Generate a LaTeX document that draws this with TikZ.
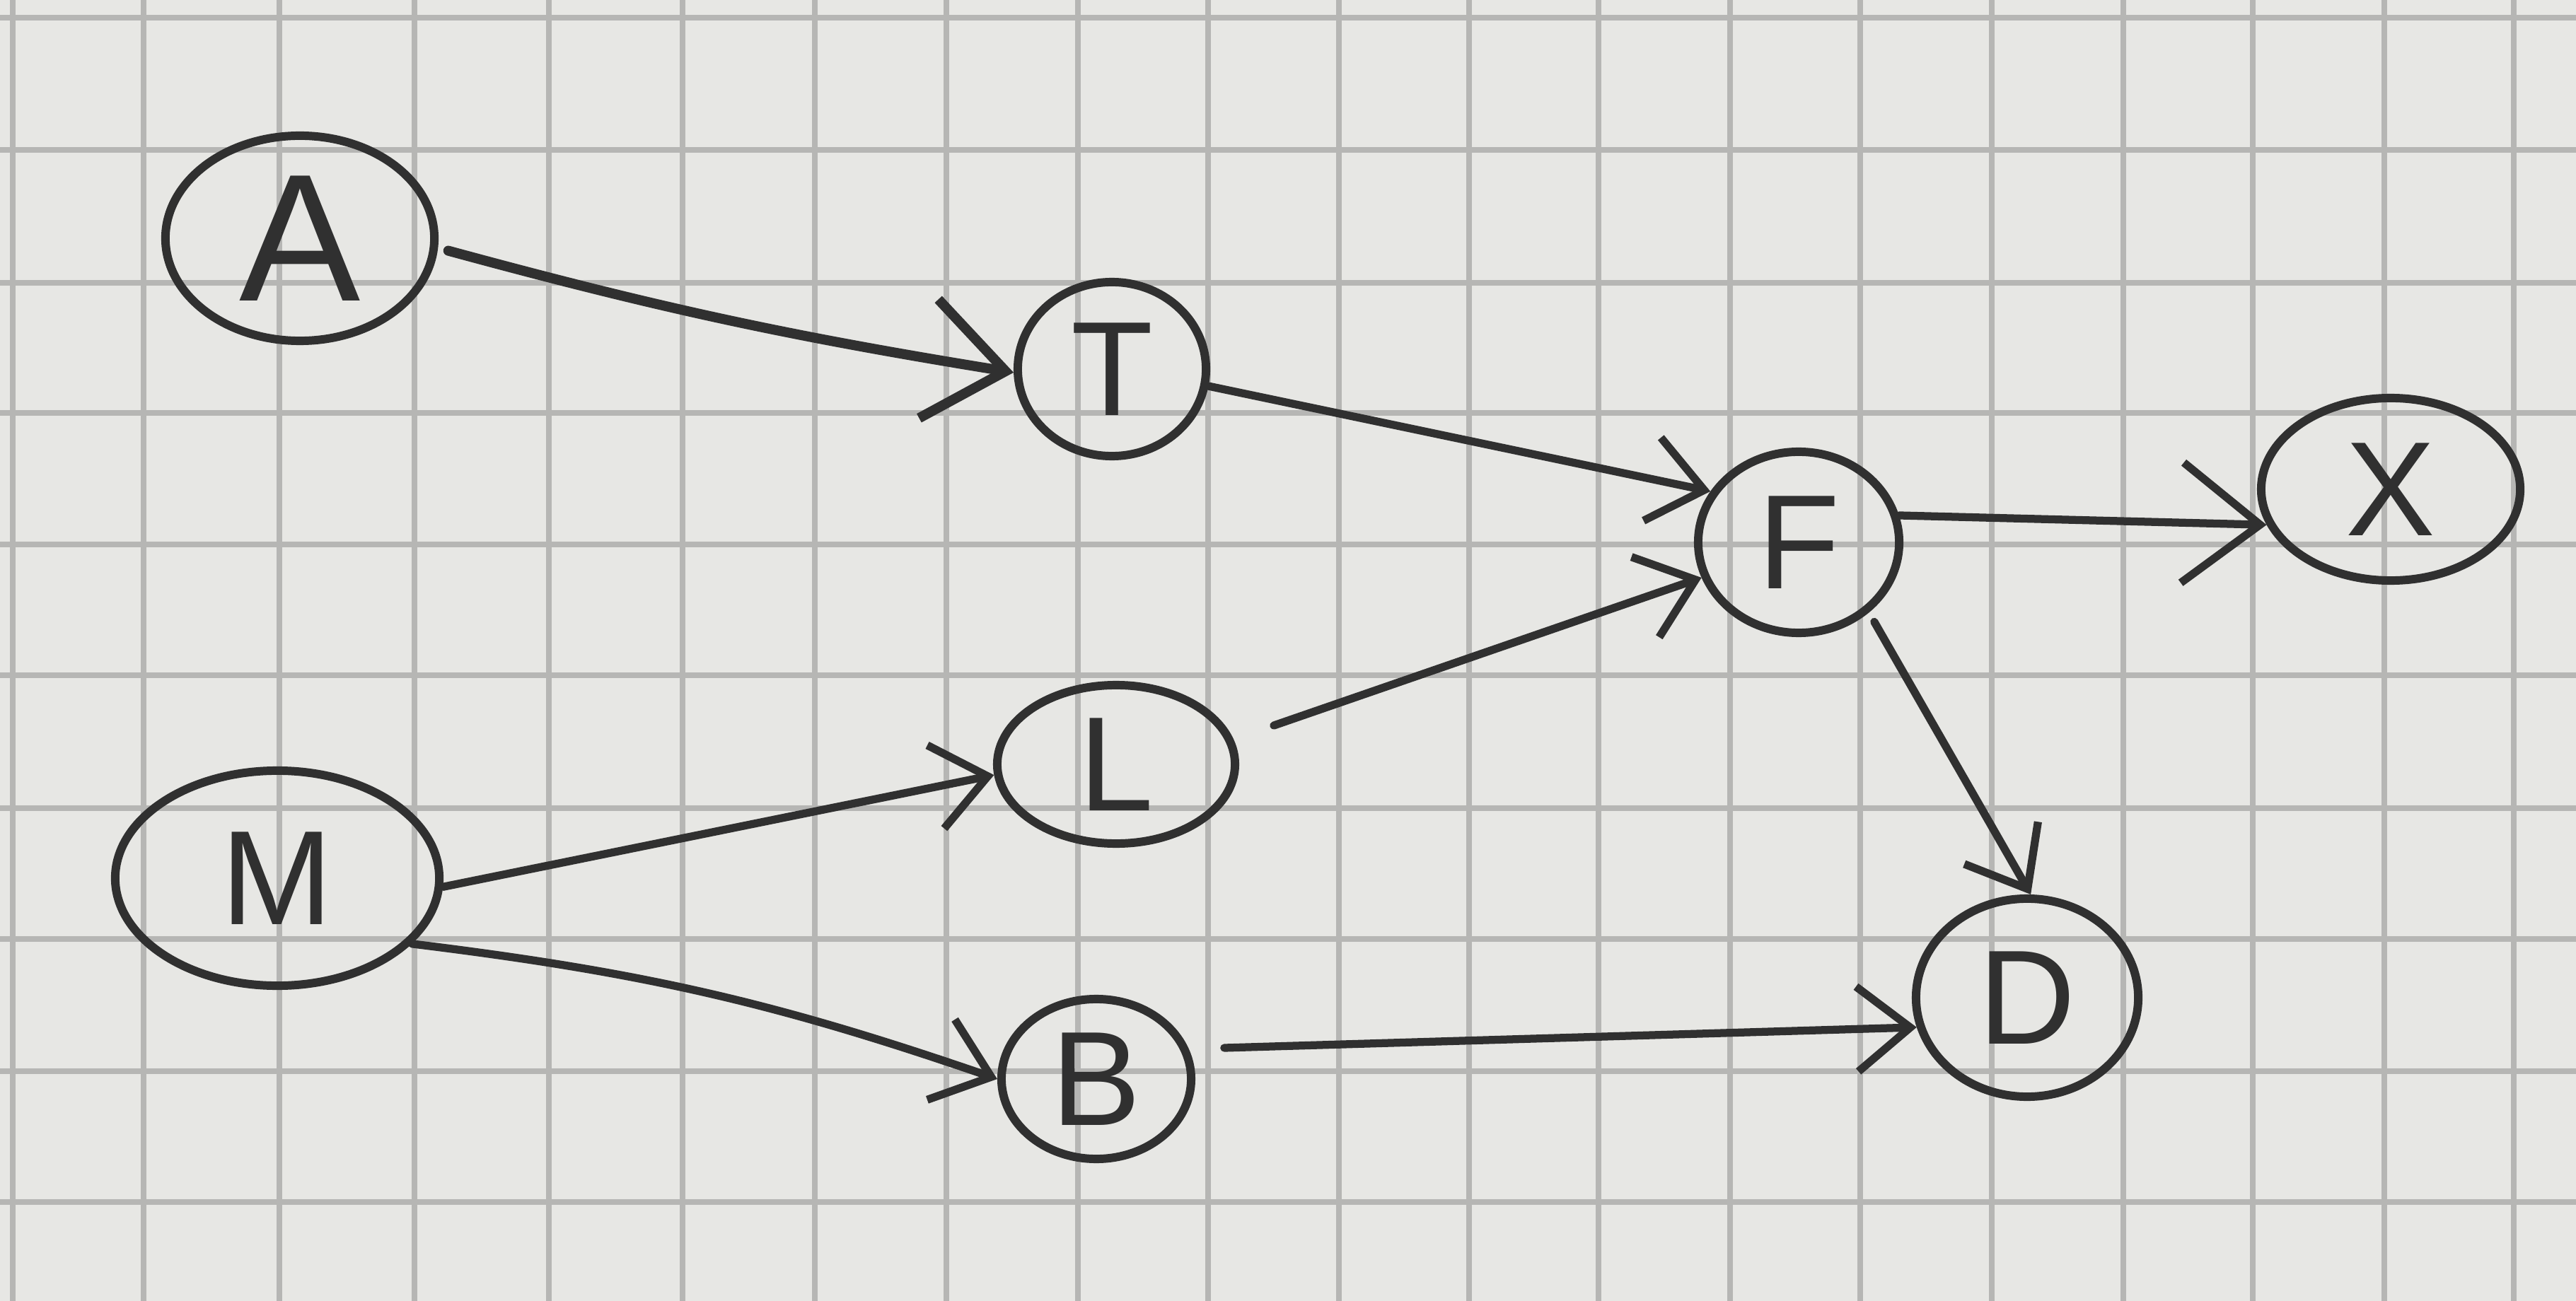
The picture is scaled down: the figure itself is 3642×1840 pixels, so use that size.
\documentclass[tikz,border=0pt]{standalone}
\usepackage{fontspec}
\setmainfont{Liberation Sans}
\usetikzlibrary{shapes.geometric,arrows.meta}
\definecolor{paper}{RGB}{231,231,228}
\definecolor{gridc}{RGB}{182,182,180}
\definecolor{pencil}{RGB}{48,48,48}
\begin{document}
\begin{tikzpicture}[x=0.01cm,y=-0.01cm,
  vnode/.style={ellipse, draw=pencil, line width=3.4pt, inner sep=0pt, text=pencil,
    font=\fontsize{54}{60}\selectfont},
  edge/.style={draw=pencil, line width=3.2pt, line cap=round,
    -{Straight Barb[length=0.75cm,width=1.2cm]}},
  bigedge/.style={edge, -{Straight Barb[length=1.1cm,width=1.7cm]}},
  gridline/.style={draw=gridc, line width=2.3pt}
]
\fill[paper] (0,0) rectangle (3642,1840);
\useasboundingbox (0,0) rectangle (3642,1840);
\foreach \gx in {18,203,395,586,776,965,1152,1338,1524,1708,1893,2077,2260,2446,2630,2816,3002,3185,3371,3554}
  \draw[gridline] (\gx,0) -- (\gx,1840);
\foreach \gy in {25,212,400,584,770,955,1143,1328,1515,1700}
  \draw[gridline] (0,\gy) -- (3642,\gy);

\node[vnode, minimum width=3.8cm, minimum height=2.9cm, font=\fontsize{73}{80}\selectfont] (A) at (424,337) {A};
\node[vnode, minimum width=2.66cm, minimum height=2.46cm] (T) at (1572,522) {T};
\node[vnode, minimum width=2.84cm, minimum height=2.56cm] (F) at (2543,767) {F};
\node[vnode, minimum width=3.66cm, minimum height=2.58cm] (X) at (3380,692) {X};
\node[vnode, minimum width=3.14cm, minimum height=2.80cm] (D) at (2866,1411) {D};
\node[vnode, minimum width=4.58cm, minimum height=3.04cm] (M) at (392,1242) {M};
\node[vnode, minimum width=3.36cm, minimum height=2.24cm] (L) at (1578,1081) {L};
\node[vnode, minimum width=2.68cm, minimum height=2.26cm] (B) at (1550,1526) {B};

\draw[bigedge, line width=4pt, bend right=3, shorten <=0.15cm] (A.-4) to (T.182);
\draw[edge] (T.-10) to (F.150);
\draw[edge, shorten <=0.6cm] (L.12) to (F.200);
\draw[bigedge] (F.15) to (X.196);
\draw[edge, shorten <=0.15cm] (F.-45) to (D.88);
\draw[edge, shorten <=0.5cm] (B.18) to (D.195);
\draw[edge] (M.-3) to (L.185);
\draw[edge, bend left=6] (M.-26) to (B.180);
\end{tikzpicture}
\end{document}
